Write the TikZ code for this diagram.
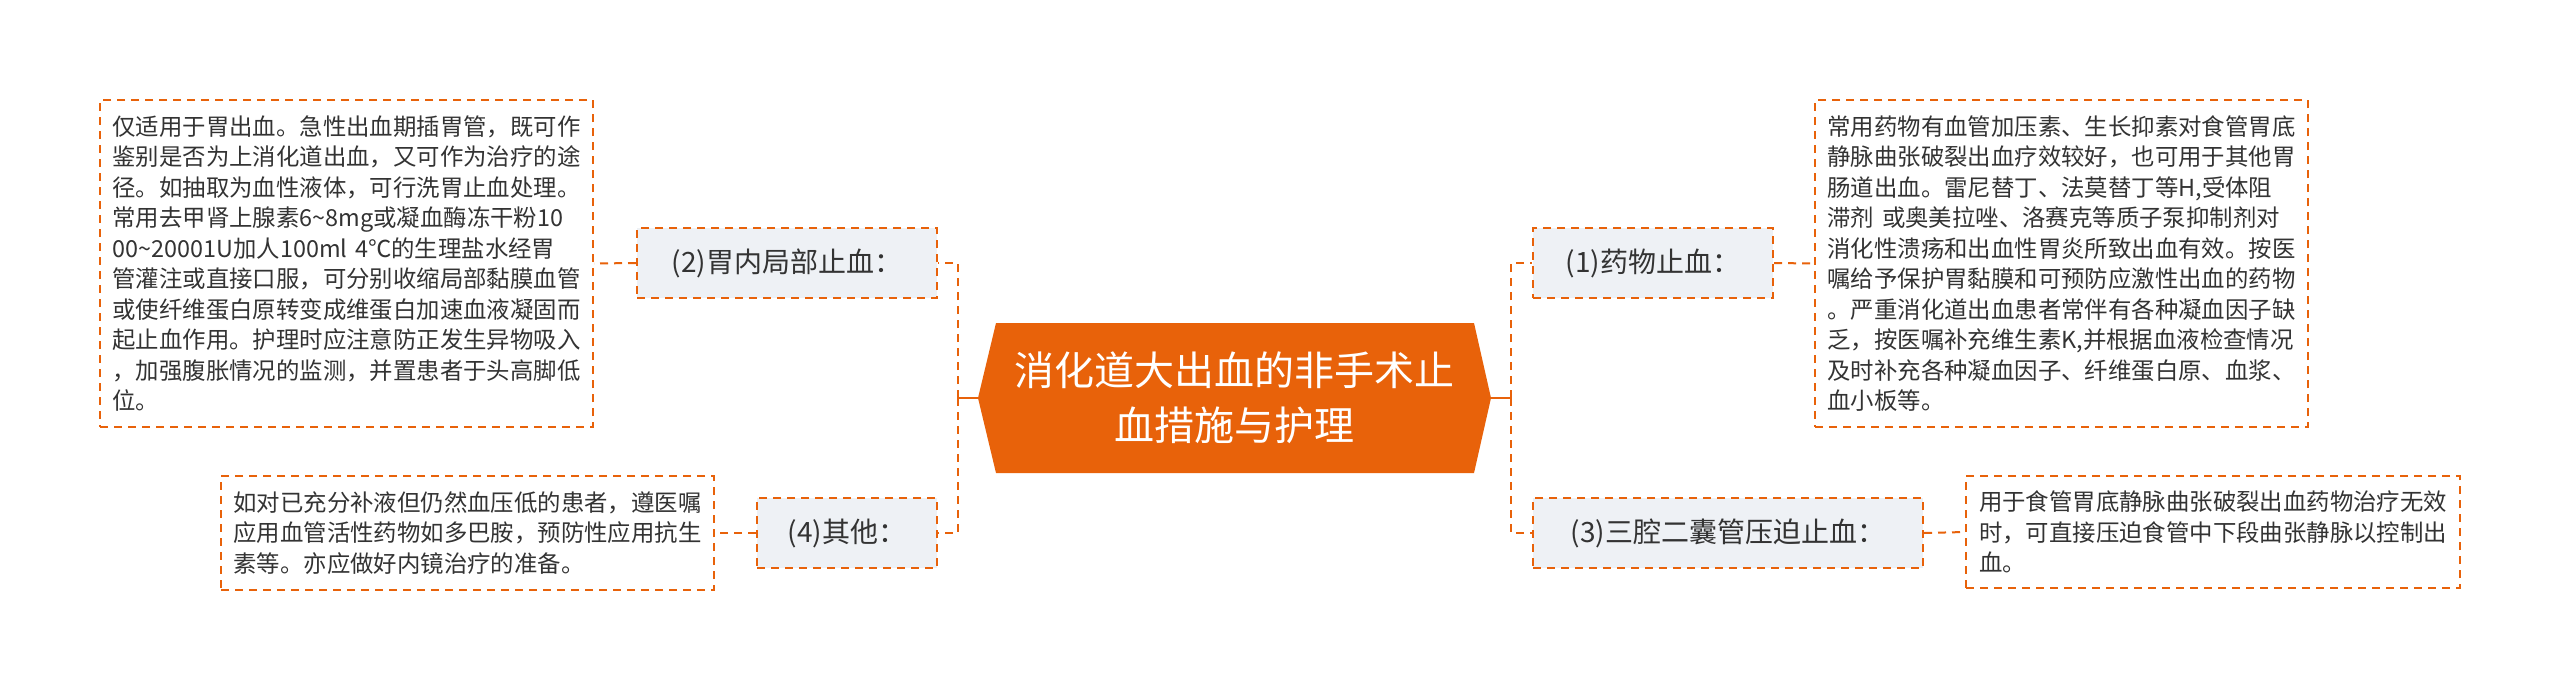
\documentclass[tikz,border=0pt]{standalone}
\usepackage{fontspec}
\newfontfamily\cjk{Noto Sans CJK SC}
\definecolor{org}{HTML}{E8620A}
\definecolor{lbl}{HTML}{EEF1F5}
\definecolor{txt}{HTML}{333333}
\begin{document}
\begin{tikzpicture}[x=1pt,y=-1pt,
  dsh/.style={draw=org,line width=2pt,dash pattern=on 8pt off 6pt},
  lab/.style={dsh,fill=lbl,font=\cjk\fontsize{28}{34}\selectfont,text=txt,inner sep=0pt},
  body/.style={dsh,font=\cjk\fontsize{23.4}{30.5}\selectfont,text=txt,align=left,inner sep=0pt,anchor=center},
  con/.style={org,line width=2pt,dash pattern=on 8pt off 6pt}]
\useasboundingbox (0,0) rectangle (2560,691);
\fill[white] (0,0) rectangle (2560,691);
% central
\fill[org] (978,398) -- (996,323) -- (1474,323) -- (1491,398) -- (1474,473) -- (996,473) -- cycle;
\node[minimum width=513pt,minimum height=150pt,inner sep=0pt,text=white,align=center,
  font=\cjk\fontsize{40}{55}\selectfont] (c) at (1234.5,398) {消化道大出血的非手术止\\血措施与护理};
% labels
\node[lab,minimum width=240pt,minimum height=70pt] (l1) at (1653,263) {(1)药物止血：};
\node[lab,minimum width=390pt,minimum height=70pt] (l3) at (1728,533) {(3)三腔二囊管压迫止血：};
\node[lab,minimum width=300pt,minimum height=70pt] (l2) at (787,263) {(2)胃内局部止血：};
\node[lab,minimum width=180pt,minimum height=70pt] (l4) at (847,533) {(4)其他：};
% texts
\node[body,minimum width=493pt,minimum height=327pt,text width=468pt] (t1) at (2061.5,263.5) {常用药物有血管加压素、生长抑素对食管胃底\\静脉曲张破裂出血疗效较好，也可用于其他胃\\肠道出血。雷尼替丁、法莫替丁等H,受体阻\\滞剂 或奥美拉唑、洛赛克等质子泵抑制剂对\\消化性溃疡和出血性胃炎所致出血有效。按医\\嘱给予保护胃黏膜和可预防应激性出血的药物\\。严重消化道出血患者常伴有各种凝血因子缺\\乏，按医嘱补充维生素K,并根据血液检查情况\\及时补充各种凝血因子、纤维蛋白原、血浆、\\血小板等。};
\node[body,minimum width=494pt,minimum height=112pt,text width=468pt] (t3) at (2213,532) {用于食管胃底静脉曲张破裂出血药物治疗无效\\时，可直接压迫食管中下段曲张静脉以控制出\\血。};
\node[body,minimum width=493pt,minimum height=327pt,text width=468pt] (t2) at (346.5,263.5) {仅适用于胃出血。急性出血期插胃管，既可作\\鉴别是否为上消化道出血，又可作为治疗的途\\径。如抽取为血性液体，可行洗胃止血处理。\\常用去甲肾上腺素6\char`\~8mg或凝血酶冻干粉10\\00\char`\~20001U加人100ml 4℃的生理盐水经胃\\管灌注或直接口服，可分别收缩局部黏膜血管\\或使纤维蛋白原转变成维蛋白加速血液凝固而\\起止血作用。护理时应注意防正发生异物吸入\\，加强腹胀情况的监测，并置患者于头高脚低\\位。};
\node[body,minimum width=493pt,minimum height=114pt,text width=468pt] (t4) at (467.5,533) {如对已充分补液但仍然血压低的患者，遵医嘱\\应用血管活性药物如多巴胺，预防性应用抗生\\素等。亦应做好内镜治疗的准备。};
% connectors
\coordinate (rt) at (1511,398);
\coordinate (lt) at (958,398);
\draw[org,line width=2.5pt] (c.east) -- (rt);
\draw[org,line width=2.5pt] (c.west) -- (lt);
\draw[con] (rt) |- (l1.west);
\draw[con] (rt) |- (l3.west);
\draw[con] (lt) |- (l2.east);
\draw[con] (lt) |- (l4.east);
\draw[con] (l1.east) -- (t1.west);
\draw[con] (l3.east) -- (t3.west);
\draw[con] (l2.west) -- (t2.east);
\draw[con] (l4.west) -- (t4.east);
\end{tikzpicture}
\end{document}
